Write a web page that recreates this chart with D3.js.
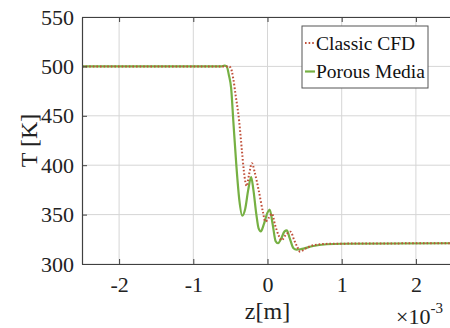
<!DOCTYPE html>
<html>
<head>
<meta charset="utf-8">
<script src="https://cdn.jsdelivr.net/npm/d3@7"></script>
<style>
  body { margin: 0; background: #fff; }
  svg { display: block; }
</style>
</head>
<body>
<div id="chart"></div>
<script>
// z values in units of 1e-3 m
const xTicks = [-2, -1, 0, 1, 2];
const yTicks = [300, 350, 400, 450, 500, 550];

const porousZ = [-2.5, -0.62, -0.58, -0.55, -0.52, -0.49, -0.46, -0.42, -0.38, -0.34, -0.30, -0.26, -0.22,
    -0.19, -0.15, -0.12, -0.09, -0.05, 0.0, 0.03, 0.07, 0.11, 0.14, 0.18, 0.23, 0.26, 0.30, 0.35, 0.39,
    0.45, 0.6, 0.8, 1.0, 2.5];
const porousT = [500, 500, 500.8, 500, 491, 478, 444, 400, 365, 349, 356, 375, 388,
    375, 350, 336, 333, 340, 352, 355, 340, 323, 321, 325, 333, 334, 326, 316, 314.5,
    315, 318, 320, 320.5, 321];

const classicZ = [-2.5, -0.53, -0.50, -0.46, -0.43, -0.39, -0.345, -0.32, -0.28, -0.25, -0.21, -0.17,
    -0.12, -0.06, -0.03, 0.02, 0.06, 0.10, 0.15, 0.19, 0.25, 0.31, 0.36, 0.40, 0.44, 0.50, 0.62, 0.85, 2.5];
const classicT = [500, 500, 499, 487, 471, 450, 415, 395, 379, 390, 402, 392,
    375, 352, 343, 347, 351, 340, 329, 324, 330, 332.7, 324, 317.5, 312.5, 315, 319, 320.5, 321];

const serif = "Liberation Serif";

const margin = { top: 17, left: 82, bottom: 64 },
    width = 453 - margin.left,
    height = 264 - margin.top;

const svg = d3.select("#chart")
    .append("svg")
    .attr("width", 450)
    .attr("height", 328)
    .attr("font-family", serif);

const plot = svg.append("g")
    .attr("transform", `translate(${margin.left}, ${margin.top})`);

const x = d3.scaleLinear().domain([-2.5, 2.5]).range([0, width]);
const y = d3.scaleLinear().domain([300, 550]).range([height, 0]);

// grid
plot.append("g")
    .selectAll("line")
    .data(xTicks)
    .join("line")
    .attr("x1", d => x(d)).attr("x2", d => x(d))
    .attr("y1", 0).attr("y2", height)
    .attr("stroke", "#d6d6d6").attr("stroke-width", 1);
plot.append("g")
    .selectAll("line")
    .data(yTicks)
    .join("line")
    .attr("x1", 0).attr("x2", width)
    .attr("y1", d => y(d)).attr("y2", d => y(d))
    .attr("stroke", "#d6d6d6").attr("stroke-width", 1);

// lines
const line = d3.line()
    .x(d => x(d[0]))
    .y(d => y(d[1]))
    .curve(d3.curveMonotoneX);

plot.append("path")
    .datum(porousZ.map((z, i) => [z, porousT[i]]))
    .attr("d", line)
    .attr("fill", "none")
    .attr("stroke", "#76b043")
    .attr("stroke-width", 2.2);

plot.append("path")
    .datum(classicZ.map((z, i) => [z, classicT[i]]))
    .attr("d", line)
    .attr("fill", "none")
    .attr("stroke", "#c0503a")
    .attr("stroke-width", 2)
    .attr("stroke-dasharray", "1.6,2");

// axes (MATLAB style, inward ticks)
const axisColor = "#404040";
const xAxis = plot.append("g")
    .attr("transform", `translate(0, ${height})`)
    .call(d3.axisBottom(x).tickValues(xTicks).tickSizeInner(-5).tickSizeOuter(0).tickPadding(12)
        .tickFormat(d => d < 0 ? "-" + Math.abs(d) : String(d)));
const xTop = plot.append("g")
    .call(d3.axisTop(x).tickValues(xTicks).tickSizeInner(-5).tickSizeOuter(0).tickFormat(() => ""));
const yAxis = plot.append("g")
    .call(d3.axisLeft(y).tickValues(yTicks).tickSizeInner(-5).tickSizeOuter(0).tickPadding(8));

[xAxis, xTop, yAxis].forEach(a => {
    a.attr("font-family", serif).attr("font-size", 22);
    a.select(".domain").attr("stroke", axisColor).attr("stroke-width", 1.2);
    a.selectAll(".tick line").attr("stroke", axisColor);
    a.selectAll(".tick text")
        .attr("fill", "#222")
        .attr("font-family", serif)
        .attr("font-size", 22);
});

// axis labels
svg.append("text")
    .attr("x", margin.left + x(0))
    .attr("y", 319)
    .attr("text-anchor", "middle")
    .attr("font-size", 24)
    .attr("fill", "#222")
    .text("z[m]");

svg.append("text")
    .attr("transform", `translate(37, ${margin.top + height / 2}) rotate(-90)`)
    .attr("text-anchor", "middle")
    .attr("font-size", 24)
    .attr("fill", "#222")
    .text("T [K]");

const exp = svg.append("text")
    .attr("x", 396)
    .attr("y", 324)
    .attr("font-size", 22)
    .attr("fill", "#222");
exp.append("tspan").text("×10");
exp.append("tspan").attr("dy", -11).attr("font-size", 15).text("-3");

// legend
const legend = svg.append("g").attr("transform", "translate(302, 26)");
legend.append("rect")
    .attr("width", 126).attr("height", 62)
    .attr("fill", "#fff")
    .attr("stroke", "#555").attr("stroke-width", 1);
const legendItems = [
    { name: "Classic CFD", color: "#c0503a", dash: "1.6,2", w: 2 },
    { name: "Porous Media", color: "#76b043", dash: null, w: 2.2 }
];
legendItems.forEach((d, i) => {
    const yy = 17 + i * 28.5;
    legend.append("line")
        .attr("x1", 3).attr("x2", 13)
        .attr("y1", yy).attr("y2", yy)
        .attr("stroke", d.color).attr("stroke-width", d.w)
        .attr("stroke-dasharray", d.dash);
    legend.append("text")
        .attr("x", 14).attr("y", yy + 6.5)
        .attr("font-size", 19.5)
        .attr("fill", "#111")
        .text(d.name);
});
</script>
</body>
</html>
